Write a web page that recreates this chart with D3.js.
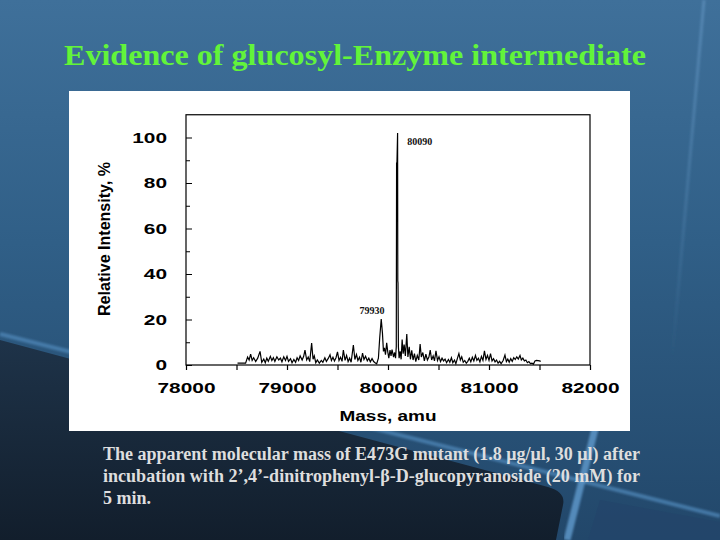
<!DOCTYPE html>
<html><head><meta charset="utf-8">
<script src="https://cdn.jsdelivr.net/npm/d3@7"></script>
<style>html,body{margin:0;padding:0;background:#2a557a;}svg{display:block;}</style>
</head><body>
<svg id="c" width="720" height="540"></svg>
<script>
// ---------- data ----------
const titleText = "Evidence of glucosyl-Enzyme intermediate";
const captionLines = [
  "The apparent molecular mass of E473G mutant (1.8 \u03bcg/\u03bcl, 30 \u03bcl) after",
  "incubation with 2\u2019,4\u2019-dinitrophenyl-\u03b2-D-glucopyranoside (20 mM) for",
  "5 min."
];
const xAxisTitle = "Mass, amu";
const yAxisTitle = "Relative Intensity, %";
const xMajorTicks = [78000, 79000, 80000, 81000, 82000];
const xMinorTicks = [78500, 79500, 80500, 81500];
const yMajorTicks = [0, 20, 40, 60, 80, 100];
const yMinorTicks = [10, 30, 50, 70, 90];
const peakLabels = ["79930", "80090"];
const peakLabelMass = [79842, 80314];
const peakLabelInt = [22.6, 96.6];

const masses = [
78510,78590,78610,78625,78640,78655,78670,78690,78710,78733,78750,78770,78785,78800,78815,78835,78850,78865,78880,78900,
78918,78935,78950,78968,78985,79000,79015,79035,79050,79068,79085,79100,79115,79130,79150,79165,79178,79195,79210,79225,
79244,79258,79270,79285,79300,79320,79340,79355,79375,79390,79410,79426,79440,79455,79470,79485,79500,79515,79530,79545,
79558,79575,79590,79605,79620,79635,79657,79672,79688,79702,79718,79732,79748,79762,79778,79795,79810,79825,79842,79858,
79872,79888,79905,79918,79933,79945,79955,79965,79975,79987,79997,80008,80020,80030,80040,80055,80065,80075,80082,80085,
80088,80095,80097,80099,80103,80110,80120,80130,80140,80150,80160,80172,80186,80197,80210,80222,80235,80248,80262,80275,80290,
80305,80318,80330,80345,80360,80375,80390,80405,80418,80432,80447,80460,80475,80490,80505,80520,80535,80550,80565,80580,
80598,80612,80628,80642,80658,80672,80688,80702,80716,80730,80745,80760,80775,80790,80805,80820,80835,80850,80866,80880,
80895,80910,80925,80940,80955,80970,80985,81000,81015,81030,81045,81060,81075,81090,81105,81120,81140,81158,81172,81186,
81200,81215,81230,81245,81260,81275,81290,81307,81320,81335,81350,81365,81380,81395,81410,81425,81440,81455,81470,81500,
81512];
const intensities = [
0.8,0.8,3.5,2.2,4.8,2.0,3.2,1.5,3.0,6.0,1.2,2.6,1.0,3.0,1.6,3.8,2.0,3.2,1.6,3.6,
2.2,3.0,1.4,3.6,2.0,3.8,1.6,2.8,1.0,2.4,1.2,3.2,2.0,4.0,2.2,3.8,6.5,2.2,3.5,1.5,
9.6,2.5,4.0,1.0,2.2,0.8,2.0,1.2,3.2,1.6,3.0,4.5,2.0,3.4,1.8,3.2,5.8,2.0,3.4,1.6,
6.6,2.0,4.2,1.5,3.0,1.2,8.8,2.4,4.6,2.0,3.4,1.2,5.2,2.4,3.8,1.8,3.0,1.4,2.8,1.5,
1.0,0.5,3.0,12.0,20.2,14.0,6.0,7.5,4.5,9.8,6.0,3.0,6.5,4.0,6.8,3.5,5.5,3.0,8.0,89.0,
87.5,102.0,37.0,36.0,8.0,3.0,6.0,2.5,11.2,5.0,9.0,4.0,13.6,3.5,8.0,2.5,6.5,2.2,5.0,1.5,4.2,
2.2,9.2,3.5,5.5,1.8,4.8,2.2,3.5,6.6,2.2,4.0,1.8,6.2,2.0,3.6,1.5,3.0,1.8,2.6,1.0,
2.4,1.2,3.2,1.0,2.2,0.6,3.0,5.0,2.2,3.6,1.2,2.0,0.8,1.6,3.0,1.4,3.4,1.8,4.2,2.0,
3.0,1.4,3.8,2.0,6.2,2.4,4.2,2.0,5.0,1.8,2.8,1.4,2.2,0.8,1.6,0.6,2.0,4.4,1.5,2.6,
1.2,2.8,1.6,3.2,2.4,3.6,2.6,4.2,2.2,3.0,1.8,2.2,1.0,1.5,0.6,0.8,0.4,1.8,2.0,1.8,
1.6];

// ---------- drawing ----------
const svg = d3.select("#c");
const defs = svg.append("defs");

const g1 = defs.append("linearGradient").attr("id","bg").attr("x1",0).attr("y1",0).attr("x2",0).attr("y2",1);
g1.append("stop").attr("offset","0%").attr("stop-color","#3f709a");
g1.append("stop").attr("offset","45%").attr("stop-color","#305f87");
g1.append("stop").attr("offset","100%").attr("stop-color","#22476a");
const g2 = defs.append("linearGradient").attr("id","dark").attr("x1",0).attr("y1",0).attr("x2",0).attr("y2",1);
g2.append("stop").attr("offset","0%").attr("stop-color","#1e3349");
g2.append("stop").attr("offset","100%").attr("stop-color","#121e2c");
const g3 = defs.append("linearGradient").attr("id","fade").attr("x1",0).attr("y1",0).attr("x2",0).attr("y2",1);
g3.append("stop").attr("offset","0%").attr("stop-color","#5a8cb8").attr("stop-opacity",0.8);
g3.append("stop").attr("offset","100%").attr("stop-color","#5a8cb8").attr("stop-opacity",0);
defs.append("filter").attr("id","blur").append("feGaussianBlur").attr("stdDeviation",1.2);

const bg = svg.append("g");
bg.append("rect").attr("width",720).attr("height",540).attr("fill","url(#bg)");
bg.append("path").attr("d","M0,340 L548,487 Q566,492 563,505 L556,540 L0,540 Z").attr("fill","url(#dark)");
bg.append("path").attr("d","M600,500 L720,522 L720,540 L588,540 Z").attr("fill","#23456a").attr("opacity",0.8);
bg.append("path").attr("d","M0,334 L720,516").attr("stroke","#4f87b8").attr("stroke-width",4).attr("opacity",0.75).attr("filter","url(#blur)");
bg.append("path").attr("d","M596,425 L567,540").attr("stroke","#5d96c8").attr("stroke-width",7).attr("opacity",0.85).attr("filter","url(#blur)");
bg.append("path").attr("d","M704,0 L672,360").attr("stroke","url(#fade)").attr("stroke-width",3).attr("filter","url(#blur)");

// title
svg.append("text").attr("x",64).attr("y",65)
  .attr("font-family","'Liberation Serif','Times New Roman',serif").attr("font-weight","bold")
  .attr("font-size",30).attr("fill","#62f43a").text(titleText)
  .attr("textLength",582).attr("lengthAdjust","spacingAndGlyphs");

// white chart panel
svg.append("rect").attr("x",69).attr("y",91).attr("width",561).attr("height",340).attr("fill","#ffffff");

const x = d3.scaleLinear().domain([78000, 82000]).range([186, 590]);
const y = d3.scaleLinear().domain([0, 110]).range([365, 114.75]);

const chart = svg.append("g");
const sansBold = "'Liberation Sans',Arial,Helvetica,sans-serif";

chart.append("rect").attr("x",x(78000)).attr("y",y(110)).attr("width",x(82000)-x(78000)).attr("height",y(0)-y(110))
  .attr("fill","none").attr("stroke","#000").attr("stroke-width",1.2);

const xAxis = chart.append("g").attr("transform",`translate(0,${y(0)})`)
  .call(d3.axisBottom(x).tickValues(xMajorTicks.concat(xMinorTicks)).tickSize(5).tickPadding(12)
    .tickFormat(d => xMajorTicks.includes(d) ? String(d) : ""));
xAxis.select(".domain").remove();
xAxis.selectAll("line").attr("stroke","#000").attr("stroke-width",1.2);
xAxis.selectAll("text").attr("font-family",sansBold).attr("font-weight","bold").attr("font-size",15.5).attr("fill","#000")
  .each(function(d){ if (xMajorTicks.includes(d)) { d3.select(this).attr("textLength",58).attr("lengthAdjust","spacingAndGlyphs"); } });

const yAxis = chart.append("g").attr("transform",`translate(${x(78000)},0)`)
  .call(d3.axisLeft(y).tickValues(yMajorTicks).tickSize(-6).tickPadding(19).tickFormat(d => String(d)));
yAxis.select(".domain").remove();
yAxis.selectAll("line").attr("stroke","#000").attr("stroke-width",1);
yAxis.selectAll("text").attr("font-family",sansBold).attr("font-weight","bold").attr("font-size",15.5).attr("fill","#000")
  .each(function(d){ d3.select(this).attr("textLength",String(d).length*11.6).attr("lengthAdjust","spacingAndGlyphs"); });
const yMinor = chart.append("g").attr("transform",`translate(${x(78000)},0)`)
  .call(d3.axisLeft(y).tickValues(yMinorTicks).tickSize(-4).tickFormat(""));
yMinor.select(".domain").remove();
yMinor.selectAll("line").attr("stroke","#000").attr("stroke-width",1);

chart.append("text").attr("x",388).attr("y",421).attr("text-anchor","middle")
  .attr("font-family",sansBold).attr("font-weight","bold").attr("font-size",15.5).attr("fill","#000")
  .attr("textLength",97).attr("lengthAdjust","spacingAndGlyphs").text(xAxisTitle);
chart.append("text").attr("transform","translate(110,239) rotate(-90)").attr("text-anchor","middle")
  .attr("font-family",sansBold).attr("font-weight","bold").attr("font-size",16).attr("fill","#000")
  .attr("textLength",154).attr("lengthAdjust","spacingAndGlyphs").text(yAxisTitle);

const pts = masses.map((m,i)=>[m,intensities[i]]);
chart.append("path").datum(pts)
  .attr("d", d3.line().x(d=>x(d[0])).y(d=>y(d[1])))
  .attr("fill","none").attr("stroke","#000").attr("stroke-width",1.2).attr("stroke-linejoin","miter");

peakLabels.forEach((t,i)=>{
  chart.append("text").attr("x",x(peakLabelMass[i])).attr("y",y(peakLabelInt[i])).attr("text-anchor","middle")
    .attr("font-family","'Liberation Serif','Times New Roman',serif").attr("font-weight","bold").attr("font-size",10)
    .attr("fill","#111").text(t);
});

const cap = svg.append("g").attr("font-family","'Liberation Serif','Times New Roman',serif").attr("font-weight","bold")
  .attr("font-size",18).attr("fill","#dedede");
const capNodes = captionLines.map((t,i)=> cap.append("text").attr("x",103).attr("y",460 + i*22).text(t));
const natural = capNodes[0].node().getComputedTextLength();
const ratio = 537 / natural;
capNodes.forEach((n,i)=>{
  const w = n.node().getComputedTextLength();
  n.attr("textLength", i < 2 ? 537 : w*ratio).attr("lengthAdjust","spacingAndGlyphs");
});
</script>
</body></html>
